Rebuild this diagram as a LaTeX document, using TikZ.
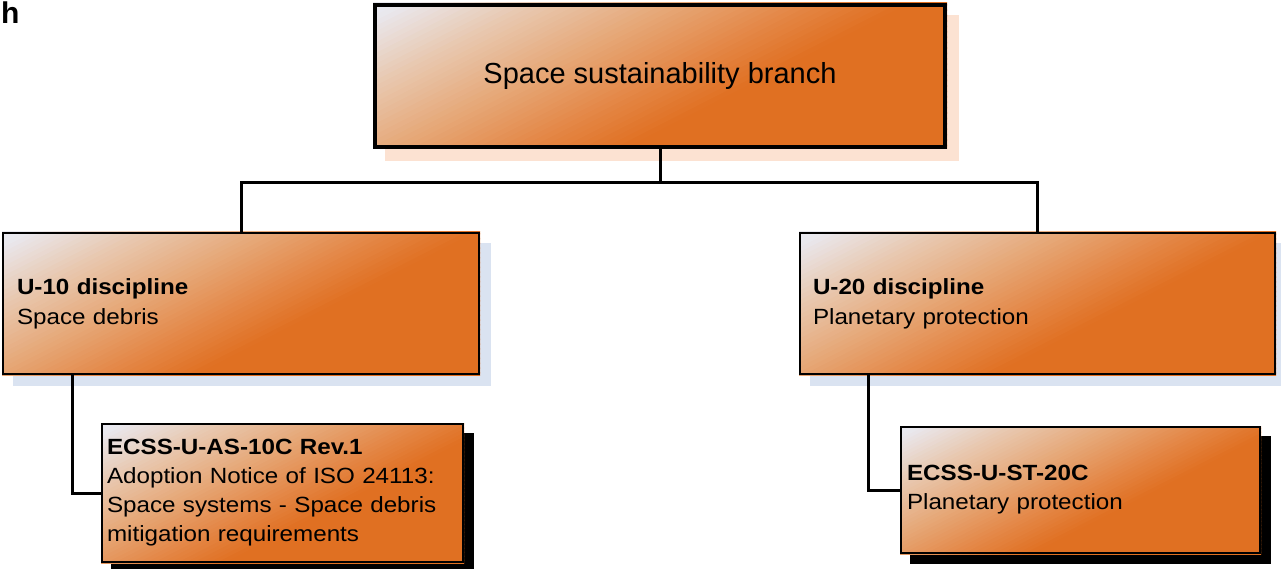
\documentclass[tikz,border=0pt]{standalone}
\usepackage{fontspec}
\usetikzlibrary{backgrounds}
\setmainfont{Liberation Sans}
\newfontfamily\boxfont[FakeStretch=1.1]{Liberation Sans}
\definecolor{orng}{RGB}{224,112,34}
\definecolor{gA}{RGB}{228,136,72}
\definecolor{gB}{RGB}{230,168,120}
\definecolor{gC}{RGB}{232,200,176}
\definecolor{pale}{RGB}{233,233,240}
\definecolor{peachsh}{RGB}{252,226,210}
\definecolor{bluesh}{RGB}{218,227,241}
\newcommand{\gradcolor}[1]{%
  \pgfmathsetmacro{\ff}{#1}%
  \ifdim \ff pt < -0.25pt \colorlet{bandc}{orng}%
  \else\ifdim \ff pt < 0pt \pgfmathsetmacro{\pp}{(\ff+0.25)/0.25*100}\colorlet{bandc}{gA!\pp!orng}%
  \else\ifdim \ff pt < 0.3pt \pgfmathsetmacro{\pp}{\ff/0.3*100}\colorlet{bandc}{gB!\pp!gA}%
  \else\ifdim \ff pt < 0.63pt \pgfmathsetmacro{\pp}{(\ff-0.3)/0.33*100}\colorlet{bandc}{gC!\pp!gB}%
  \else\ifdim \ff pt < 0.95pt \pgfmathsetmacro{\pp}{(\ff-0.63)/0.32*100}\colorlet{bandc}{pale!\pp!gC}%
  \else \colorlet{bandc}{pale}\fi\fi\fi\fi\fi}
% #1 node name, #2 half extent along gradient axis, #3 shadow colour, #4 shadow offset
\newcommand{\boxback}[4]{%
  \fill[#3] ([shift={(#4pt,-#4pt)}]#1.north west) rectangle ([shift={(#4pt,-#4pt)}]#1.south east);
  \begin{scope}
    \clip (#1.north west) rectangle (#1.south east);
    \begin{scope}[shift={(#1.center)}, rotate=27]
      \foreach \k in {-44,...,43} {
        \pgfmathsetmacro{\fm}{(\k+0.5)*0.025}
        \pgfmathsetmacro{\sa}{\k*0.025*#2}
        \pgfmathsetmacro{\sb}{(\k*0.025+0.032)*#2}
        \gradcolor{\fm}
        \fill[bandc] (-420pt,\sa pt) rectangle (420pt,\sb pt);
      }
    \end{scope}
  \end{scope}}
\tikzset{
  box/.style={draw=black, rectangle, anchor=north west, inner ysep=0pt, align=left, text=black},
  midtext/.style={font=\boxfont\fontsize{22}{30}\selectfont},
  lowtext/.style={font=\boxfont\fontsize{22}{29}\selectfont},
  conn/.style={draw=black, line width=3pt}
}
\begin{document}
\begin{tikzpicture}[x=1pt,y=-1pt]
\useasboundingbox (0,0) rectangle (1281,569);
\node[font=\bfseries\fontsize{30}{30}\selectfont, anchor=base west, inner sep=0pt] (lbl) at (1,24) {h};
\node[box, line width=4pt, minimum width=570pt, minimum height=142pt,
  inner xsep=0pt, font=\fontsize{29}{35}\selectfont] (top) at (373,3) {Space sustainability branch};
\node[box, line width=2pt, text width=448pt, inner xsep=14pt, minimum height=141pt, midtext]
  (m1) at (2,232) {\textbf{U-10 discipline}\\Space debris};
\node[box, line width=2pt, text width=449pt, inner xsep=13pt, minimum height=141pt, midtext]
  (m2) at (799,232) {\textbf{U-20 discipline}\\Planetary protection};
\node[box, line width=2pt, text width=351pt, inner xsep=5pt, minimum height=138pt, lowtext]
  (b1) at (101,423) {\textbf{ECSS-U-AS-10C Rev.1}\\Adoption Notice of ISO 24113:\\Space systems - Space debris\\mitigation requirements};
\node[box, line width=2pt, text width=347pt, inner xsep=6pt, minimum height=126pt, lowtext]
  (b2) at (900,426) {\textbf{ECSS-U-ST-20C}\\Planetary protection};
\begin{scope}[on background layer]
  \boxback{top}{193}{peachsh}{12}
  \boxback{m1}{171}{bluesh}{11}
  \boxback{m2}{171}{bluesh}{11}
  \boxback{b1}{143}{black}{10}
  \boxback{b2}{138}{black}{10}
\end{scope}
\coordinate (bus) at (top.south |- 0,183);
\draw[conn] (top.south) -- (bus);
\draw[conn] (m1.north) |- (bus) -| (m2.north);
\draw[conn] ([xshift=70pt]m1.south west) |- (b1.west);
\draw[conn] ([xshift=69pt]m2.south west) |- (b2.west);
\end{tikzpicture}
\end{document}
